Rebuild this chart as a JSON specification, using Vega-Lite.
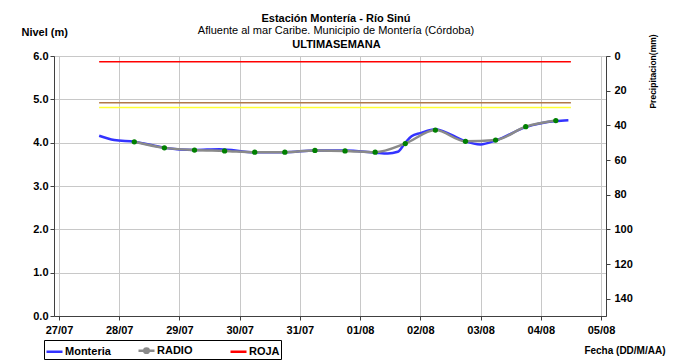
{
  "$schema": "https://vega.github.io/schema/vega-lite/v6.json",
  "width": 552,
  "height": 260,
  "autosize": {"type": "none"},
  "padding": {"left": 54, "top": 56, "right": 72, "bottom": 44},
  "background": "white",
  "config": {
    "font": "Liberation Sans",
    "view": {"stroke": "#808080", "strokeWidth": 1},
    "axis": {
      "labelFont": "Liberation Sans",
      "labelFontWeight": "bold",
      "labelFontSize": 11,
      "labelColor": "black",
      "titleFont": "Liberation Sans",
      "titleFontWeight": "bold",
      "titleFontSize": 11,
      "titleColor": "black",
      "domainColor": "#404040",
      "tickColor": "#404040",
      "gridColor": "#c8c8c8",
      "tickSize": 4
    }
  },
  "title": {
    "text": "Estación Montería - Río Sinú",
    "subtitle": ["Afluente al mar Caribe. Municipio de Montería (Córdoba)"],
    "font": "Liberation Sans",
    "fontSize": 11,
    "fontWeight": "bold",
    "color": "black",
    "subtitleFont": "Liberation Sans",
    "subtitleFontSize": 11,
    "subtitleColor": "black",
    "subtitlePadding": 1,
    "anchor": "middle",
    "dx": 6,
    "offset": -10
  },
  "datasets": {
    "monteria": [
      {"fecha": "2021-07-27T16:00:00", "nivel": 4.16, "serie": "Monteria"},
      {"fecha": "2021-07-27T22:00:00", "nivel": 4.06, "serie": "Monteria"},
      {"fecha": "2021-07-28T06:00:00", "nivel": 4.02, "serie": "Monteria"},
      {"fecha": "2021-07-28T14:00:00", "nivel": 3.93, "serie": "Monteria"},
      {"fecha": "2021-07-28T18:00:00", "nivel": 3.88, "serie": "Monteria"},
      {"fecha": "2021-07-29T06:00:00", "nivel": 3.83, "serie": "Monteria"},
      {"fecha": "2021-07-29T16:00:00", "nivel": 3.85, "serie": "Monteria"},
      {"fecha": "2021-07-30T06:00:00", "nivel": 3.78, "serie": "Monteria"},
      {"fecha": "2021-07-30T18:00:00", "nivel": 3.78, "serie": "Monteria"},
      {"fecha": "2021-07-31T06:00:00", "nivel": 3.82, "serie": "Monteria"},
      {"fecha": "2021-07-31T18:00:00", "nivel": 3.82, "serie": "Monteria"},
      {"fecha": "2021-08-01T06:00:00", "nivel": 3.77, "serie": "Monteria"},
      {"fecha": "2021-08-01T11:00:00", "nivel": 3.75, "serie": "Monteria"},
      {"fecha": "2021-08-01T15:00:00", "nivel": 3.79, "serie": "Monteria"},
      {"fecha": "2021-08-01T18:00:00", "nivel": 4.0, "serie": "Monteria"},
      {"fecha": "2021-08-01T20:30:00", "nivel": 4.15, "serie": "Monteria"},
      {"fecha": "2021-08-02T00:00:00", "nivel": 4.22, "serie": "Monteria"},
      {"fecha": "2021-08-02T06:00:00", "nivel": 4.31, "serie": "Monteria"},
      {"fecha": "2021-08-02T12:00:00", "nivel": 4.19, "serie": "Monteria"},
      {"fecha": "2021-08-02T18:00:00", "nivel": 4.03, "serie": "Monteria"},
      {"fecha": "2021-08-03T00:00:00", "nivel": 3.96, "serie": "Monteria"},
      {"fecha": "2021-08-03T06:00:00", "nivel": 4.05, "serie": "Monteria"},
      {"fecha": "2021-08-03T18:00:00", "nivel": 4.36, "serie": "Monteria"},
      {"fecha": "2021-08-04T06:00:00", "nivel": 4.5, "serie": "Monteria"},
      {"fecha": "2021-08-04T11:00:00", "nivel": 4.52, "serie": "Monteria"}
    ],
    "radio": [
      {"fecha": "2021-07-28T06:00:00", "nivel": 4.02, "serie": "RADIO"},
      {"fecha": "2021-07-28T18:00:00", "nivel": 3.88, "serie": "RADIO"},
      {"fecha": "2021-07-29T06:00:00", "nivel": 3.83, "serie": "RADIO"},
      {"fecha": "2021-07-29T18:00:00", "nivel": 3.81, "serie": "RADIO"},
      {"fecha": "2021-07-30T06:00:00", "nivel": 3.78, "serie": "RADIO"},
      {"fecha": "2021-07-30T18:00:00", "nivel": 3.78, "serie": "RADIO"},
      {"fecha": "2021-07-31T06:00:00", "nivel": 3.82, "serie": "RADIO"},
      {"fecha": "2021-07-31T18:00:00", "nivel": 3.81, "serie": "RADIO"},
      {"fecha": "2021-08-01T06:00:00", "nivel": 3.78, "serie": "RADIO"},
      {"fecha": "2021-08-01T18:00:00", "nivel": 3.98, "serie": "RADIO"},
      {"fecha": "2021-08-02T06:00:00", "nivel": 4.29, "serie": "RADIO"},
      {"fecha": "2021-08-02T18:00:00", "nivel": 4.03, "serie": "RADIO"},
      {"fecha": "2021-08-03T06:00:00", "nivel": 4.06, "serie": "RADIO"},
      {"fecha": "2021-08-03T18:00:00", "nivel": 4.37, "serie": "RADIO"},
      {"fecha": "2021-08-04T06:00:00", "nivel": 4.51, "serie": "RADIO"}
    ],
    "umbrales": [
      {"inicio": "2021-07-27T16:00:00", "fin": "2021-08-04T12:00:00", "nivel": 5.87, "serie": "ROJA"},
      {"inicio": "2021-07-27T16:00:00", "fin": "2021-08-04T12:00:00", "nivel": 4.92, "serie": "NARANJA"},
      {"inicio": "2021-07-27T16:00:00", "fin": "2021-08-04T12:00:00", "nivel": 4.81, "serie": "AMARILLA"}
    ],
    "precip": [
      {"fecha": "2021-07-28T00:00:00", "precipitacion": 0},
      {"fecha": "2021-07-29T00:00:00", "precipitacion": 0},
      {"fecha": "2021-07-30T00:00:00", "precipitacion": 0},
      {"fecha": "2021-07-31T00:00:00", "precipitacion": 0},
      {"fecha": "2021-08-01T00:00:00", "precipitacion": 0},
      {"fecha": "2021-08-02T00:00:00", "precipitacion": 0},
      {"fecha": "2021-08-03T00:00:00", "precipitacion": 0},
      {"fecha": "2021-08-04T00:00:00", "precipitacion": 0}
    ]
  },
  "layer": [
    {
      "encoding": {
        "x": {
          "field": "fecha",
          "type": "temporal",
          "scale": {"domain": ["2021-07-27T00:00:00", "2021-08-05T00:00:00"]},
          "axis": {
            "orient": "bottom",
            "format": "%d/%m",
            "tickCount": {"interval": "day", "step": 1},
            "labelPadding": 4,
            "grid": true,
            "title": "Fecha (DD/M/AA)",
            "titleFontSize": 10,
            "titleX": 611,
            "titleY": 34,
            "titleAlign": "right",
            "titleAnchor": null,
            "titleBaseline": "middle"
          }
        },
        "y": {
          "field": "nivel",
          "type": "quantitative",
          "scale": {"domain": [0, 6]},
          "axis": {
            "orient": "left",
            "values": [0, 1, 2, 3, 4, 5, 6],
            "format": ".1f",
            "grid": true,
            "title": "Nivel (m)",
            "titleAngle": 0,
            "titleX": -33,
            "titleY": -24,
            "titleAlign": "left",
            "titleBaseline": "middle",
            "titleAnchor": null
          }
        },
        "color": {
          "field": "serie",
          "type": "nominal",
          "scale": {
            "domain": ["Monteria", "RADIO", "ROJA", "NARANJA", "AMARILLA"],
            "range": ["#3333ff", "#8a8a8a", "#ff0000", "#b07848", "#ffff33"]
          },
          "legend": {
            "values": ["Monteria", "RADIO", "ROJA"],
            "orient": "none",
            "legendX": -10,
            "legendY": 284,
            "direction": "horizontal",
            "columns": 3,
            "gridAlign": "all",
            "title": null,
            "strokeColor": "black",
            "padding": 1,
            "symbolType": "stroke",
            "symbolSize": 256,
            "symbolStrokeWidth": 2.5,
            "labelFont": "Liberation Sans",
            "labelFontWeight": "bold",
            "labelFontSize": 11,
            "labelColor": "black",
            "labelOffset": 1,
            "columnPadding": 22,
            "encode": {
              "symbols": {
                "update": {
                  "shape": {"signal": "datum.value === 'RADIO' ? 'M-1,0L1,0M-0.28,0A0.28,0.28,0,1,1,0.28,0A0.28,0.28,0,1,1,-0.28,0' : 'stroke'"},
                  "fill": {"signal": "datum.value === 'RADIO' ? '#008000' : 'transparent'"}
                }
              }
            }
          }
        }
      },
      "layer": [
        {
          "data": {"name": "umbrales"},
          "mark": {"type": "rule", "strokeWidth": 1.5},
          "encoding": {
            "x": {"field": "inicio", "type": "temporal"},
            "x2": {"field": "fin"},
            "y": {"field": "nivel", "type": "quantitative"}
          }
        },
        {
          "data": {"name": "monteria"},
          "mark": {"type": "line", "interpolate": "monotone", "strokeWidth": 2.5}
        },
        {
          "data": {"name": "radio"},
          "mark": {"type": "line", "interpolate": "monotone", "strokeWidth": 2.5}
        },
        {
          "data": {"name": "radio"},
          "mark": {"type": "point", "filled": true, "size": 28, "color": "#008000", "opacity": 1},
          "encoding": {"color": {"value": "#008000"}}
        }
      ]
    },
    {
      "data": {"name": "precip"},
      "mark": {"type": "bar", "color": "#4444aa"},
      "encoding": {
        "x": {
          "field": "fecha",
          "type": "temporal",
          "axis": {
            "orient": "top",
            "labels": false,
            "ticks": false,
            "domain": false,
            "grid": false,
            "title": "ULTIMASEMANA",
            "titleFontSize": 11,
            "titleX": 282,
            "titleY": -12,
            "titleAlign": "center",
            "titleBaseline": "middle",
            "titleAnchor": null
          }
        },
        "y": {
          "field": "precipitacion",
          "type": "quantitative",
          "scale": {"domain": [0, 150], "reverse": true},
          "axis": {
            "orient": "right",
            "values": [0, 20, 40, 60, 80, 100, 120, 140],
            "grid": false,
            "labelPadding": 4,
            "title": "Precipitacion(mm)",
            "titleFontSize": 8.5,
            "titleAngle": 270,
            "titleX": 46,
            "titleY": 15,
            "titleAlign": "center",
            "titleBaseline": "middle",
            "titleAnchor": null
          }
        }
      }
    }
  ],
  "resolve": {"scale": {"y": "independent"}, "axis": {"x": "independent"}}
}
